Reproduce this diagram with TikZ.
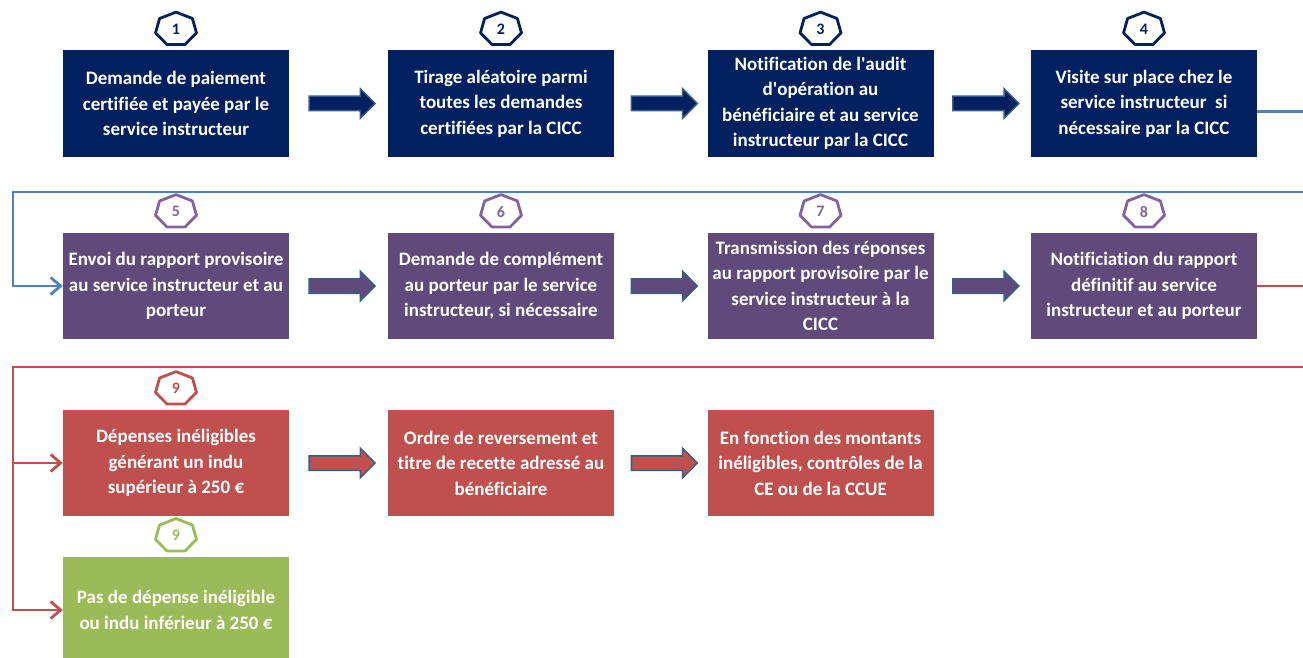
\documentclass[tikz,border=0pt]{standalone}
\usepackage{fontspec}
\setmainfont[Ligatures=NoCommon]{Carlito}
\usepackage{tikz}
\usetikzlibrary{arrows.meta,positioning,shapes.arrows,calc}

\definecolor{navy}{HTML}{002060}
\definecolor{plum}{HTML}{604A7B}
\definecolor{lilac}{HTML}{8064A2}
\definecolor{brick}{HTML}{C0504D}
\definecolor{leaf}{HTML}{9BBB59}
\definecolor{linkblue}{HTML}{4F81BD}
\definecolor{arrowblue}{HTML}{385D8A}

% heptagon frame round a badge node: #1 node, #2 colour
\newcommand{\heptframe}[2]{%
    \draw[#2,line width=2.8pt,line join=round] ($(#1)+(90:21pt and 17pt)$)
        \foreach \k in {1,...,6}{ -- ($(#1)+(90+\k*360/7:21pt and 17pt)$)} -- cycle;}

\begin{document}
\begin{tikzpicture}[x=1pt,y=-1pt]
    \tikzstyle{stage}=[rectangle,minimum width=226pt,minimum height=106pt,inner sep=2pt,align=center,text=white,font=\fontsize{19}{25.5}\selectfont\bfseries]
    \tikzstyle{badge}=[minimum width=42pt,minimum height=32pt,inner sep=0pt,font=\fontsize{16}{16}\selectfont\bfseries]
    \tikzstyle{fat arrow}=[single arrow,draw=arrowblue,line width=1.5pt,minimum height=66pt,inner xsep=0pt,inner ysep=6.5pt,single arrow head extend=7.5pt]
    \tikzstyle{link}=[line width=2.8pt,-{Straight Barb[length=10pt,width=17pt]}]

    \useasboundingbox (0,0) rectangle (1303,658);

    % Draw the steps, row by row
    \foreach \name/\x/\y/\col/\txt in {
        1/176/103.5/navy/{Demande de paiement\\certifiée et payée par le\\service instructeur},
        2/501/103.5/navy/{Tirage aléatoire parmi\\toutes les demandes\\certifiées par la CICC},
        3/820.5/103.5/navy/{Notification de l\textquotesingle audit\\d\textquotesingle opération au\\bénéficiaire et au service\\instructeur par la CICC},
        4/1144/103.5/navy/{Visite sur place chez le\\service instructeur\ \ si\\nécessaire par la CICC},
        5/176/286/plum/{Envoi du rapport provisoire\\au service instructeur et au\\porteur},
        6/501/286/plum/{Demande de complément\\au porteur par le service\\instructeur, si nécessaire},
        7/820.5/286/plum/{Transmission des réponses\\au rapport provisoire par le\\service instructeur à la\\CICC},
        8/1144/286/plum/{Notificiation du rapport\\définitif au service\\instructeur et au porteur},
        9a/176/463/brick/{Dépenses inéligibles\\générant un indu\\supérieur à 250 €},
        10/501/463/brick/{Ordre de reversement et\\titre de recette adressé au\\bénéficiaire},
        11/820.5/463/brick/{En fonction des montants\\inéligibles, contrôles de la\\CE ou de la CCUE},
        9b/176/610/leaf/{Pas de dépense inéligible\\ou indu inférieur à 250 €}}
        \node[stage,fill=\col] (B-\name) at (\x,\y) {\txt};

    % Number badges above the steps
    \foreach \name/\num/\col in {1/1/navy,2/2/navy,3/3/navy,4/4/navy,
                                 5/5/lilac,6/6/lilac,7/7/lilac,8/8/lilac,
                                 9a/9/brick,9b/9/leaf}
    {
        \node[badge,text=\col,above=5pt of B-\name] (N-\name) {\num};
        \heptframe{N-\name}{\col}
    }

    % Block arrows between neighbouring steps
    \foreach \a/\b/\col in {1/2/navy,2/3/navy,3/4/navy,
                            5/6/plum,6/7/plum,7/8/plum,
                            9a/10/brick,10/11/brick}
        \node[fat arrow,fill=\col] (A-\a) at ($(B-\a.east)!0.5!(B-\b.west)$) {};

    % Carry row 1 over to row 2, and row 2 over to row 3
    \coordinate (blue turn) at (1330,192);
    \coordinate (blue back) at (13,192);
    \draw[link,draw=linkblue] ([yshift=-8pt]B-4.east) -| (blue turn) -- (blue back) |- (B-5.west);

    \coordinate (red turn) at (1330,367);
    \coordinate (red back) at (13,367);
    \draw[link,draw=brick] (B-8.east) -| (red turn) -- (red back) |- (B-9a.west);
    \draw[link,draw=brick] (red back) |- (B-9b.west);

\end{tikzpicture}
\end{document}
